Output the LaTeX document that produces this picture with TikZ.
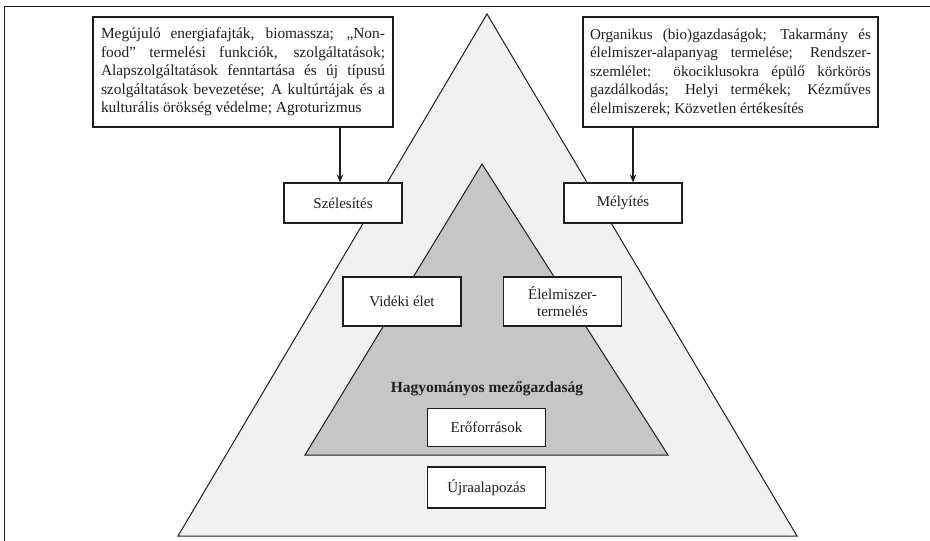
\documentclass[tikz,border=0pt]{standalone}
\usepackage{fontspec}
\setmainfont{Liberation Serif}
\usetikzlibrary{arrows.meta}
\definecolor{outerfill}{HTML}{F1F1F1}
\definecolor{innerfill}{HTML}{C6C6C6}
\definecolor{ink}{HTML}{1E1E1E}
\hyphenpenalty=10000
\exhyphenpenalty=10000
\begin{document}
\begin{tikzpicture}[x=1pt,y=-1pt,
  txt/.style={font=\fontsize{15}{18.3}\selectfont, text=ink},
  bigbox/.style={font=\fontsize{15.4}{18.5}\selectfont, text=ink, draw=ink, line width=1.1pt, fill=white, text width=284pt, align=justify, inner xsep=8pt, inner ysep=0pt, minimum height=110pt},
  smallbox/.style={txt, draw=ink, line width=1.1pt, fill=white, minimum width=118pt, align=center, inner sep=2pt},
  arr/.style={draw=ink, line width=2pt, -{Stealth[length=8pt,width=6.5pt]}}]
\useasboundingbox (0,0) rectangle (930,541);
\draw[ink, line width=0.8pt] (4,541) -- (4,6) -- (930,6);
% triangles
\filldraw[fill=outerfill, draw=ink, line width=1pt] (487,14) -- (797,536) -- (178,536) -- cycle;
\filldraw[fill=innerfill, draw=ink, line width=1pt] (482,164) -- (668,455) -- (305,455) -- cycle;
% top boxes
\node[bigbox] (lbox) at (243,72) {Megújuló energiafajták, biomassza; „Non-\linebreak food” termelési funkciók, szolgáltatások;\linebreak Alapszolgáltatások fenntartása és új típusú\linebreak szolgáltatások bevezetése; A kultúrtájak és a\linebreak kulturális örökség védelme; Agroturizmus};
\node[bigbox, text width=281pt, inner xsep=7pt, font=\fontsize{15.1}{18.5}\selectfont] (rbox) at (730.5,72) {Organikus (bio)gazdaságok; Takarmány és\linebreak élelmiszer-alapanyag termelése; Rendszer-\linebreak szemlélet: ökociklusokra épülő körkörös\linebreak gazdálkodás; Helyi termékek; Kézműves\linebreak élelmiszerek; Közvetlen értékesítés};
% small boxes
\node[smallbox, minimum height=40pt] (szel) at (343,203) {Szélesítés};
\node[smallbox, minimum height=40pt] (mely) at (623,203) {Mélyítés};
\node[smallbox, minimum height=49pt] (videk) at (402,301.5) {Vidéki élet};
\node[smallbox, minimum height=49pt, font=\fontsize{15}{17}\selectfont] (elelm) at (562.5,301.5) {Élelmiszer-\\termelés};
\node[txt, font=\fontsize{15.5}{18}\selectfont\bfseries] (hagy) at (487,389) {Hagyományos mezőgazdaság};
\node[smallbox, minimum height=38pt] (ero) at (486.5,427.5) {Erőforrások};
\node[smallbox, minimum height=41pt] (ujra) at (486.5,487.5) {Újraalapozás};
% arrows
\draw[arr] (lbox.south -| 340,0) -- (szel.north -| 340,0);
\draw[arr] (rbox.south -| 633,0) -- (mely.north -| 633,0);
\end{tikzpicture}
\end{document}
